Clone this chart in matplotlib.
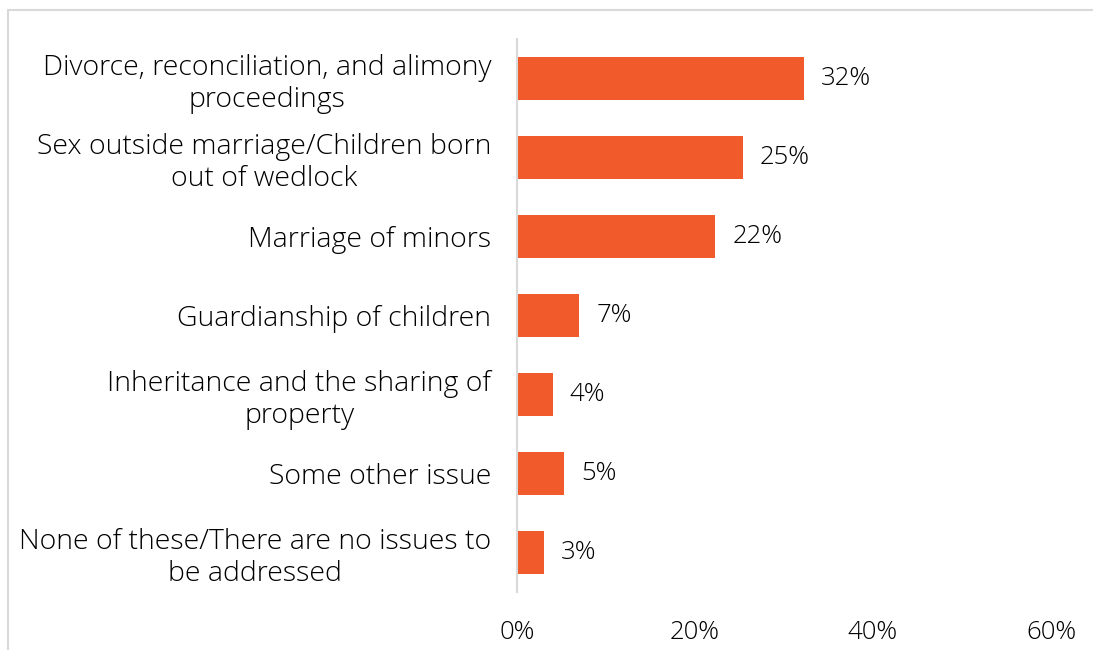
import matplotlib.pyplot as plt
from matplotlib.lines import Line2D

categories = ['Divorce, reconciliation, and alimony\nproceedings',
              'Sex outside marriage/Children born\nout of wedlock',
              'Marriage of minors',
              'Guardianship of children',
              'Inheritance and the sharing of\nproperty',
              'Some other issue',
              'None of these/There are no issues to\nbe addressed']
values = [32.2, 25.4, 22.3, 7.0, 4.0, 5.3, 3.0]
labels = ['32%', '25%', '22%', '7%', '4%', '5%', '3%']
ticks = [0, 20, 40, 60]

plt.rcParams['font.family'] = ['Open Sans', 'DejaVu Sans']

fig = plt.figure(figsize=(10.93, 6.5), dpi=100)
ax = fig.add_axes([517 / 1093, 1 - 592 / 650, (1051 - 517) / 1093, (592 - 39) / 650])

pos = list(range(len(categories)))
ax.barh(pos, values, height=0.55, color='#F15A2B')
for p, v, t in zip(pos, values, labels):
    ax.text(v + 1.9, p, t, va='center', ha='left', fontsize=18.5, color='#000000', fontweight='light')

ax.set_ylim(len(categories) - 0.5, -0.5)
ax.set_xlim(0, 60)
ax.set_yticks(pos)
ax.set_yticklabels(categories, fontsize=20.5, multialignment='center', linespacing=1.2,
                   fontweight='light')
ax.set_xticks(ticks)
ax.set_xticklabels([str(t) + '%' for t in ticks], fontsize=18.5, fontweight='light')
ax.tick_params(axis='y', length=0, pad=18.5)
ax.tick_params(axis='x', length=0, pad=20)
for s in ['top', 'right', 'bottom']:
    ax.spines[s].set_visible(False)
ax.spines['left'].set_color('#d9d9d9')
ax.spines['left'].set_linewidth(1.5)

# outer frame lines
fig.add_artist(Line2D([8 / 1093, 1], [1 - 9.5 / 650, 1 - 9.5 / 650], color='#d9d9d9', lw=1.5))
fig.add_artist(Line2D([8 / 1093, 8 / 1093], [0, 1 - 9.5 / 650], color='#d9d9d9', lw=1.5))

fig.savefig('out.png', dpi=100)
